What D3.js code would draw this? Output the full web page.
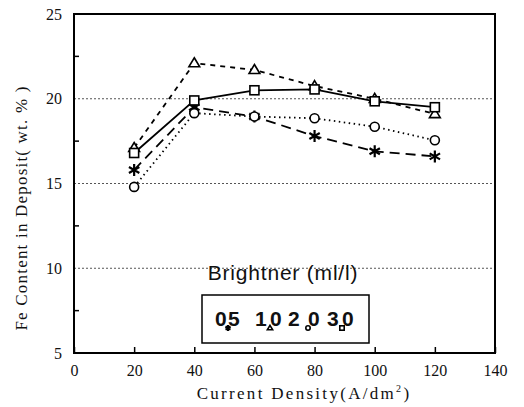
<!DOCTYPE html>
<html>
<head>
<meta charset="utf-8">
<script src="https://cdn.jsdelivr.net/npm/d3@7"></script>
<style>
  body { margin: 0; background: #fff; }
</style>
</head>
<body>
<div id="chart"></div>
<script>
// data
var density = [20, 40, 60, 80, 100, 120];
var feTriangle = [17.1, 22.1, 21.7, 20.75, 20.0, 19.1];
var feSquare = [16.8, 19.9, 20.5, 20.55, 19.85, 19.5];
var feCircle = [14.8, 19.15, 18.95, 18.85, 18.35, 17.55];
var feStar = [15.8, 19.5, 18.95, 17.8, 16.9, 16.6];
var xTicks = [0, 20, 40, 60, 80, 100, 120, 140];
var yTicks = [5, 10, 15, 20, 25];
var legendLabels = ["0.5", "1.0", "2.0", "3.0"];

var margin = {top: 14, right: 29, bottom: 54, left: 74},
    width = 524 - margin.left - margin.right,
    height = 407 - margin.top - margin.bottom;

var serif = "'Liberation Serif', 'DejaVu Serif', serif";
var sans = "'Liberation Sans', Arial, sans-serif";

var svg = d3.select("#chart")
  .append("svg")
    .attr("width", 524)
    .attr("height", 407)
  .append("g")
    .attr("transform", "translate(" + margin.left + "," + margin.top + ")");

var x = d3.scaleLinear().domain([0, 140]).range([0, width]);
var y = d3.scaleLinear().domain([5, 25]).range([height, 0]);

// grid lines
svg.selectAll("grid")
  .data([10, 15, 20])
  .enter()
  .append("line")
    .attr("x1", 0).attr("x2", width)
    .attr("y1", function(d) { return y(d); })
    .attr("y2", function(d) { return y(d); })
    .attr("stroke", "#555")
    .attr("stroke-width", 1)
    .attr("stroke-dasharray", "2,2");

// frame
svg.append("rect")
  .attr("width", width).attr("height", height)
  .attr("fill", "none").attr("stroke", "#000").attr("stroke-width", 2);

// X axis
var xAxis = svg.append("g")
  .attr("transform", "translate(0," + height + ")")
  .call(d3.axisBottom(x).tickValues(xTicks).tickSizeInner(-6).tickSizeOuter(0).tickPadding(12));
xAxis.select(".domain").remove();
xAxis.selectAll("line").attr("stroke-width", 1.5);
xAxis.selectAll("text")
  .style("font-family", serif)
  .style("font-size", "16px").attr("fill", "#111");

// Y axis
var yAxis = svg.append("g")
  .call(d3.axisLeft(y).tickValues(yTicks).tickSize(0).tickPadding(12));
yAxis.select(".domain").remove();
yAxis.selectAll("text")
  .style("font-family", serif)
  .style("font-size", "16px").attr("fill", "#111");
svg.selectAll("ytick")
  .data([7.5, 12.5, 17.5, 22.5])
  .enter()
  .append("line")
    .attr("x1", 0).attr("x2", 5)
    .attr("y1", function(d) { return y(d); })
    .attr("y2", function(d) { return y(d); })
    .attr("stroke", "#000").attr("stroke-width", 1.5);

// axis labels
svg.append("text")
  .attr("text-anchor", "middle")
  .attr("x", 230)
  .attr("y", 385)
  .style("font-family", serif)
  .style("font-size", "17px")
  .style("letter-spacing", "2.3px")
  .attr("fill", "#111")
  .html("Current Density(A/dm<tspan dy='-7' font-size='10px'>2</tspan><tspan dy='7'>)</tspan>");

svg.append("text")
  .attr("text-anchor", "middle")
  .attr("transform", "translate(" + (-47) + "," + 194 + ")rotate(-90)")
  .style("font-family", serif)
  .style("font-size", "17px")
  .style("letter-spacing", "1.2px")
  .attr("fill", "#111")
  .text("Fe Content in Deposit( wt. % )");

// series
var series = [
  {name: "0.5", values: feStar, dash: "10,6", sym: "star"},
  {name: "1.0", values: feTriangle, dash: "5,5", sym: "triangle"},
  {name: "2.0", values: feCircle, dash: "1.5,3.5", sym: "circle"},
  {name: "3.0", values: feSquare, dash: null, sym: "square"}
];

var line = d3.line()
  .x(function(d) { return x(d[0]); })
  .y(function(d) { return y(d[1]); });

function drawSymbol(g, sym, cx, cy, s) {
  if (sym == "triangle") {
    g.append("path")
      .attr("d", "M" + cx + "," + (cy - s * 1.2) + "L" + (cx + s * 1.2) + "," + (cy + s * 0.8) + "L" + (cx - s * 1.2) + "," + (cy + s * 0.8) + "Z")
      .attr("fill", "#fff").attr("stroke", "#000").attr("stroke-width", 1.6);
  } else if (sym == "square") {
    g.append("rect")
      .attr("x", cx - s).attr("y", cy - s).attr("width", 2 * s).attr("height", 2 * s)
      .attr("fill", "#fff").attr("stroke", "#000").attr("stroke-width", 1.6);
  } else if (sym == "circle") {
    g.append("circle")
      .attr("cx", cx).attr("cy", cy).attr("r", s)
      .attr("fill", "#fff").attr("stroke", "#000").attr("stroke-width", 1.6);
  } else {
    g.append("path")
      .attr("d", d3.symbol().type(d3.symbolAsterisk).size(s * s * 5)())
      .attr("transform", "translate(" + cx + "," + cy + ")")
      .attr("fill", "none").attr("stroke", "#000").attr("stroke-width", 2.2);
  }
}

series.forEach(function(s) {
  var pts = density.map(function(d, i) { return [d, s.values[i]]; });
  svg.append("path")
    .datum(pts)
    .attr("d", line)
    .attr("fill", "none")
    .attr("stroke", "#000")
    .attr("stroke-width", 1.8)
    .attr("stroke-dasharray", s.dash);
  var g = svg.append("g");
  pts.forEach(function(p) {
    drawSymbol(g, s.sym, x(p[0]), y(p[1]), 4.5);
  });
});

// legend
svg.append("text")
  .attr("text-anchor", "middle")
  .attr("x", 209)
  .attr("y", 266)
  .style("font-family", sans)
  .style("font-size", "21px")
  .style("letter-spacing", "0.8px")
  .attr("fill", "#111")
  .text("Brightner (ml/l)");

svg.append("rect")
  .attr("x", 128).attr("y", 281)
  .attr("width", 167).attr("height", 48)
  .attr("fill", "#fff").attr("stroke", "#000").attr("stroke-width", 1.5);

var legDigitX = [[141, 154], [181, 196], [214, 234], [253, 268]];
series.forEach(function(s, i) {
  var parts = legendLabels[i].split(".");
  var t = svg.append("text")
    .attr("y", 312)
    .style("font-family", sans)
    .style("font-weight", "bold")
    .style("font-size", "21px")
    .attr("fill", "#111");
  t.append("tspan").attr("x", legDigitX[i][0]).text(parts[0]);
  t.append("tspan").attr("x", legDigitX[i][1]).text(parts[1]);
  var g = svg.append("g");
  drawSymbol(g, s.sym, legDigitX[i][1], 314, 2.2);
});
</script>
</body>
</html>
